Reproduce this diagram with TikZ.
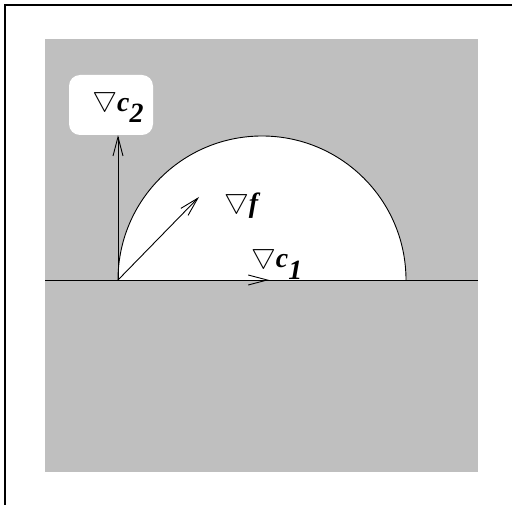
\documentclass[tikz,border=0pt]{standalone}
\usepackage{fontspec}
\setmainfont{Liberation Serif}
\usetikzlibrary{arrows.meta}
\begin{document}
\begin{tikzpicture}[x=1pt,y=-1pt,
  vec/.style={line width=0.9pt,-{Straight Barb[length=19pt,width=10pt]}},
  outline/.style={line width=0.9pt},
  lblbox/.style={fill=white,rounded corners=11pt,minimum width=84pt,minimum height=60pt,inner sep=0pt},
  lbl/.style={inner sep=0pt}]
\useasboundingbox (0,0) rectangle (512,505);
\draw[line width=1.2pt] (512,5) -- (5,5) -- (5,505);
\fill[gray!50] (45,39) rectangle (478,472);
\coordinate (o) at (118,280);
\coordinate (e) at (406,280);
\filldraw[fill=white,outline] (e) arc[start angle=0,end angle=-180,radius=144];
\draw[outline] (45,280) -- (478,280);
\node[lblbox] (c2) at (111,105) {\hspace*{14pt}\scalebox{1.12}{\Huge\raisebox{4pt}{$\bigtriangledown$}\textbf{\textit{c}}\raisebox{-10pt}{\textbf{\textit{2}}}}};
\coordinate (ftip) at (199,197);
\coordinate (c1tip) at (269,280);
\draw[vec] (o) -- (o |- c2.south);
\draw[vec] (o) -- (ftip);
\draw[vec] (o) -- (c1tip);
\node[lbl,anchor=base west] (fl) at (224,213) {\scalebox{1.12}{\Huge\raisebox{4pt}{$\bigtriangledown$}\textbf{\textit{f}}}};
\node[lbl,anchor=base west] (c1l) at (251,268) {\scalebox{1.12}{\Huge\raisebox{4pt}{$\bigtriangledown$}\textbf{\textit{c}}\raisebox{-10pt}{\textbf{\textit{1}}}}};
\end{tikzpicture}
\end{document}
